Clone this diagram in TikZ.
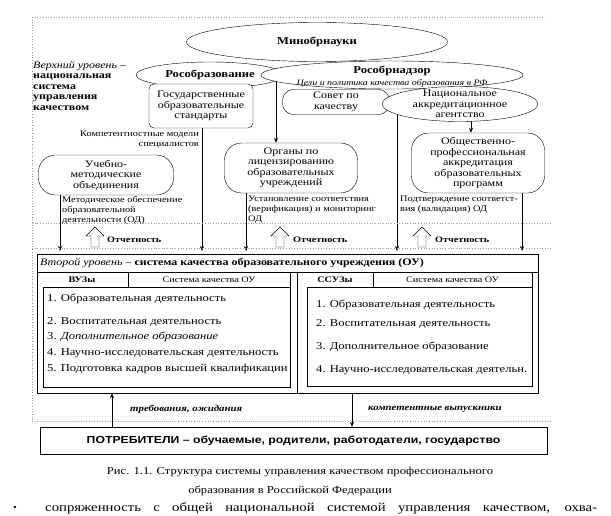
\documentclass[tikz,border=0pt]{standalone}
\usepackage{fontspec}
\setmainfont[FakeStretch=1.2]{Liberation Serif}
\setsansfont[FakeStretch=1.2]{Liberation Sans}
\usepackage{tikz}
\usetikzlibrary{arrows.meta, shapes.geometric, backgrounds}

\newcommand{\fsmall}{\fontsize{8.6}{10}\selectfont}
\newcommand{\fmid}{\fontsize{8.5}{10}\selectfont}
\newcommand{\fbody}{\fontsize{10}{10.5}\selectfont}

\tikzset{
    % Upper level
    ovl/.style={ellipse, draw, fill=white, inner sep=0pt, font=\fontsize{10.5}{11}\selectfont\bfseries},
    ovltxt/.style={font=\fbody, align=center, inner sep=0pt},
    orgbox/.style={rectangle, rounded corners=#1, draw, fill=white, align=center,
                inner sep=0pt, font=\fbody},
    sidenote/.style={font=\fsmall, align=left, inner sep=0pt},
    darr/.style={-{Stealth[length=5pt, width=4pt]}, semithick},
    % Reporting arrows
    repup/.pic={\draw[fill=white] (-4,10) -- (-4,-1) -- (-9,-1) -- (0,-10) -- (9,-1) -- (4,-1) -- (4,10) -- cycle;},
    replbl/.style={font=\fmid\bfseries, anchor=west, inner sep=0pt},
    % Second level
    cell/.style={rectangle, draw, line width=0.9pt, minimum height=15pt, inner sep=0pt, font=\fmid},
    listitem/.style={anchor=west, inner sep=0pt, font=\fontsize{10.5}{12}\selectfont},
    flowlbl/.style={anchor=west, inner sep=0pt, font=\fontsize{9}{10}\selectfont\bfseries\itshape},
    % General
    dotl/.style={dotted, gray!80, line width=0.7pt},
}

\begin{document}
\begin{tikzpicture}[x=1pt, y=-1pt]
\useasboundingbox (0,0) rectangle (611,516);

% level frames
\draw[dotl] (32,17) -- (545,17);
\draw[dotl] (32,17) -- (32,421);
\draw[dotl] (32,223) -- (553,223);
\draw[dotl] (32,248) -- (553,248);
\draw[dotl] (32,421) -- (553,421);

\node[anchor=north west, align=left, inner sep=0pt, font=\fbody] (upper) at (33,61)
    {\textit{Верхний уровень –}\\\textbf{национальная}\\\textbf{система}\\\textbf{управления}\\\textbf{качеством}};

% upper level bodies
\node[ovl, minimum width=261pt, minimum height=39pt] (minobr) at (317,42) {Минобрнауки};
\node[ovl, minimum width=148pt, minimum height=26pt] (rosobr) at (210,75) {Рособразование};
\node[ovl, minimum width=262pt, minimum height=28pt,
      label={[ovltxt, font=\fontsize{10.5}{11}\selectfont\bfseries, yshift=4pt]center:Рособрнадзор},
      label={[sidenote, font=\fontsize{8.3}{9}\selectfont\itshape, yshift=-8pt]center:Цели и политика качества образования в РФ}]
      (rosnadz) at (392,75) {};
\node[orgbox=5pt, minimum width=104pt, minimum height=44pt] (gosstd) at (201,106)
    {Государственные\\образовательные\\стандарты};
\node[orgbox=11pt, minimum width=107pt, minimum height=25pt] (sovet) at (336,102) {Совет по\\качеству};
\node[ovl, minimum width=156pt, minimum height=35pt,
      label={[ovltxt]center:Национальное\\аккредитационное\\агентство}] (nak) at (460,104) {};
\node[orgbox=17pt, minimum width=133pt, minimum height=50pt] (organy) at (291,168)
    {Органы по\\лицензированию\\образовательных\\учреждений};
\node[orgbox=17pt, minimum width=135pt, minimum height=40pt] (umo) at (106,175)
    {Учебно-\\методические\\объединения};
\node[orgbox=17pt, minimum width=133pt, minimum height=60pt] (opa) at (478,163)
    {Общественно-\\профессиональная\\аккредитация\\образовательных\\программ};

\node[sidenote, align=right, anchor=north east] (kompmod) at (199,131) {Компетентностные модели\\специалистов};
\node[sidenote, anchor=north west] (metod) at (62,196) {Методическое обеспечение\\образовательной\\деятельности (ОД)};
\node[sidenote, anchor=north west] (verif) at (248,196) {Установление соответствия\\(верификация) и мониторинг\\ОД};
\node[sidenote, anchor=north west] (valid) at (400,196) {Подтверждение соответст-\\вия (валидация) ОД};

% reporting
\pic at (95,237) {repup};
\node[replbl] (rep1) at (107,240) {Отчетность};
\pic at (280,237) {repup};
\node[replbl] (rep2) at (293,240) {Отчетность};
\pic at (422,237) {repup};
\node[replbl] (rep3) at (435,240) {Отчетность};

% second level
\node[draw, minimum width=501pt, minimum height=139pt, inner sep=0pt] (level2) at (287.5,323.5) {};
\node[anchor=west, inner sep=0pt, font=\fbody] (l2head) at (40,263)
    {\textit{Второй уровень} – \textbf{система качества образовательного учреждения (ОУ)}};
\draw (level2.west |- 0,272) -- (level2.east |- 0,272);
\draw (297,272) -- (297,393);

\node[font=\fmid\bfseries] (vuz) at (82,279.5) {ВУЗы};
\node[cell, minimum width=162pt] (vuzsys) at (209,279.5) {Система качества ОУ};
\node[cell, minimum width=247pt, minimum height=100pt] (vuzlist) at (166.5,337) {};
\node[listitem] (v1) at (47,299) {1. Образовательная деятельность};
\node[listitem] (v2) at (47,322) {2. Воспитательная деятельность};
\node[listitem] (v3) at (47,337) {3. \textit{Дополнительное образование}};
\node[listitem] (v4) at (47,353) {4. Научно-исследовательская деятельность};
\node[listitem] (v5) at (47,369) {5. Подготовка кадров высшей квалификации};

\node[font=\fmid\bfseries] (ssuz) at (335,279.5) {ССУЗы};
\node[cell, minimum width=159pt] (ssuzsys) at (452.5,279.5) {Система качества ОУ};
\node[cell, minimum width=225pt, minimum height=99pt] (ssuzlist) at (419.5,336.5) {};
\node[listitem] (s1) at (316,305) {1. Образовательная деятельность};
\node[listitem] (s2) at (316,324) {2. Воспитательная деятельность};
\node[listitem] (s3) at (316,347) {3. Дополнительное образование};
\node[listitem] (s4) at (316,370) {4. Научно-исследовательская деятельн.};

% consumers
\node[draw, minimum width=507pt, minimum height=27pt, inner sep=0pt,
      font=\sffamily\bfseries\fontsize{10.2}{12}\selectfont] (potreb) at (293.5,440.5)
    {ПОТРЕБИТЕЛИ – обучаемые, родители, работодатели, государство};
\node[flowlbl] (reqlbl) at (130,409) {требования, ожидания};
\node[flowlbl] (gradlbl) at (368,409) {компетентные выпускники};

% caption
\node[font=\fontsize{10.5}{12}\selectfont] (cap1) at (300,472) {Рис. 1.1. Структура системы управления качеством профессионального};
\node[font=\fontsize{10.5}{12}\selectfont] (cap2) at (290,491) {образования в Российской Федерации};
\node[font=\fontsize{9}{10}\selectfont] (bullet) at (15,508) {\textbullet};
\node[anchor=west, inner sep=0pt, font=\fontsize{12.3}{14}\selectfont] (bodyln) at (45,508)
    {\makebox[552pt][s]{сопряженность с общей национальной системой управления качеством, охва-}};

% arrow ends
\coordinate (t1) at (60,251);
\coordinate (t2) at (202,251);
\coordinate (t3) at (246,251);
\coordinate (t4) at (397,251);
\coordinate (t5) at (522,251);
\coordinate (reqx) at (112,421);
\coordinate (gradx) at (352,421);

\begin{scope}[on background layer]
\draw[darr] ([xshift=-15pt]organy.north |- rosnadz.center) -- ([xshift=-15pt]organy.north);
\draw[darr] ([xshift=-7pt]opa.north |- nak.center) -- ([xshift=-7pt]opa.north);
\draw[darr] (umo.center -| t1) -- (t1);
\draw[darr] (gosstd.center -| t2) -- (t2);
\draw[darr] (organy.center -| t3) -- (t3);
\draw[darr] (nak.center -| t4) -- (t4);
\draw[darr] (opa.center -| t5) -- (t5);
\end{scope}
\draw[darr] (potreb.north -| reqx) -- (level2.south -| reqx);
\draw[darr] (level2.south -| gradx) -- (potreb.north -| gradx);
\end{tikzpicture}
\end{document}
